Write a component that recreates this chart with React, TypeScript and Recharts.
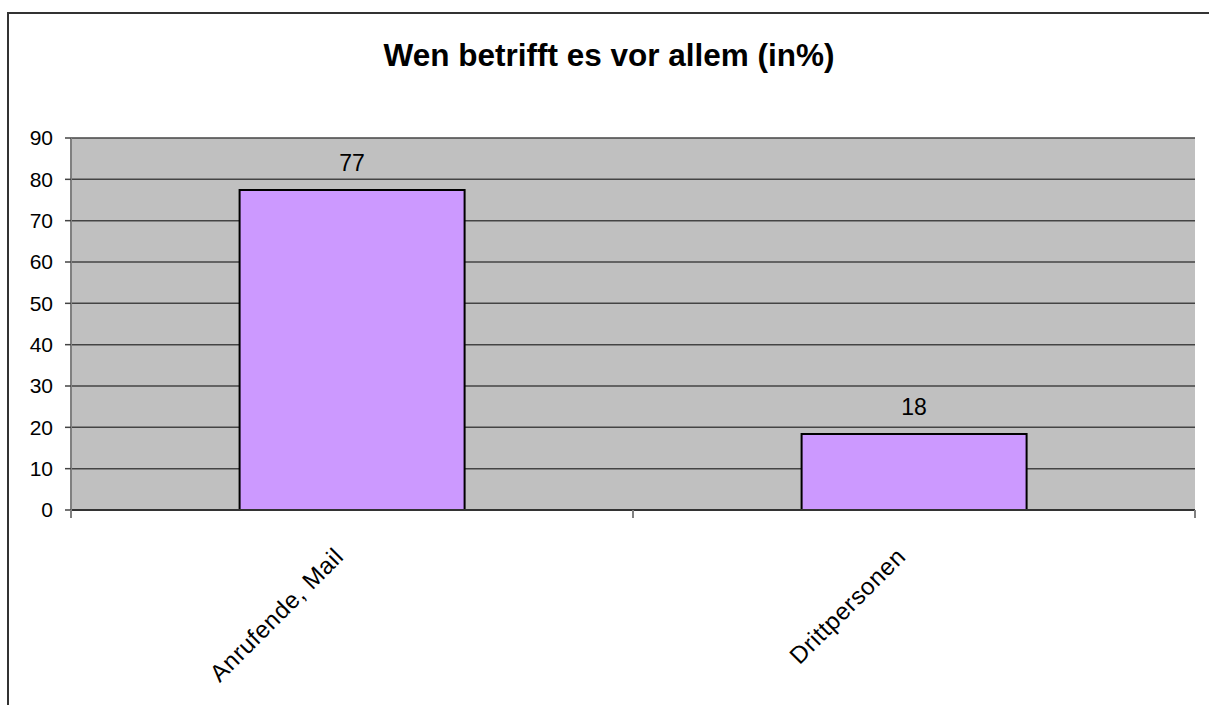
import { Bar, BarChart, CartesianGrid, LabelList, XAxis, YAxis } from "recharts";

const categories = ["Anrufende, Mail", "Drittpersonen"];
const shares = [77.4, 18.4];
const yTicks = [0, 10, 20, 30, 40, 50, 60, 70, 80, 90];

const data = categories.map((name, i) => ({ name, value: shares[i] }));

const W = 1209;
const H = 705;
const M = { top: 138, right: 14, left: 0, bottom: 0 };
const Y_W = 71;
const X_H = 195;
const BAND = (W - M.left - M.right - Y_W) / categories.length;
const FONT = '"Liberation Sans", Arial, sans-serif';

// category ticks sit on the band edges, labels go diagonal under the middle
function CatTick(props: any) {
  const { x, y, payload, index } = props;
  const last = index === categories.length - 1;
  const tx = x - 7;
  const ty = y + 48;
  return (
    <g>
      <line x1={x - BAND / 2} y1={y} x2={x - BAND / 2} y2={y + 8} stroke="#808080" strokeWidth={2} />
      {last && <line x1={x + BAND / 2} y1={y} x2={x + BAND / 2} y2={y + 8} stroke="#808080" strokeWidth={2} />}
      <text
        x={tx}
        y={ty}
        transform={`rotate(-45, ${tx}, ${ty})`}
        textAnchor="end"
        fontSize={24}
        letterSpacing={0.6}
        fontFamily={FONT}
        fill="#000"
      >
        {payload.value}
      </text>
    </g>
  );
}

export default function App() {
  return (
    <div style={{ position: "fixed", left: 0, top: 0, width: W, height: H, overflow: "hidden", background: "#fff", fontFamily: FONT }}>
      <div style={{ position: "absolute", left: 7, top: 12, width: 1240, height: 740, border: "2px solid #333", boxSizing: "border-box" }} />
      <div style={{ position: "absolute", left: 0, top: 40, width: 1218, textAlign: "center", fontSize: 31.5, fontWeight: "bold", lineHeight: 1, color: "#000" }}>
        Wen betrifft es vor allem (in%)
      </div>
      <div style={{ position: "absolute", left: 0, top: 0 }}>
        <BarChart width={W} height={H} data={data} margin={M} barCategoryGap="30%">
          <CartesianGrid vertical={false} stroke="#444" strokeWidth={1.5} fill="#C0C0C0" />
          <XAxis
            dataKey="name"
            height={X_H}
            interval={0}
            tickSize={0}
            tickMargin={0}
            tickLine={false}
            axisLine={{ stroke: "#333", strokeWidth: 2 }}
            tick={<CatTick />}
          />
          <YAxis
            width={Y_W}
            domain={[0, 90]}
            ticks={yTicks}
            interval={0}
            tickSize={6}
            tickMargin={12}
            axisLine={{ stroke: "#808080", strokeWidth: 2 }}
            tickLine={{ stroke: "#444", strokeWidth: 1.5 }}
            tick={{ fontSize: 21, fill: "#000", fontFamily: FONT }}
          />
          <YAxis
            yAxisId="frame"
            orientation="right"
            width={0}
            domain={[0, 90]}
            tick={false}
            tickLine={false}
            axisLine={{ stroke: "#808080", strokeWidth: 2 }}
          />
          <Bar dataKey="value" fill="#CC99FF" stroke="#000" strokeWidth={2} isAnimationActive={false}>
            <LabelList
              dataKey="value"
              position="top"
              offset={19}
              formatter={(v: any) => Math.round(Number(v))}
              style={{ fontSize: 23, fill: "#000", fontFamily: FONT }}
            />
          </Bar>
        </BarChart>
      </div>
    </div>
  );
}
